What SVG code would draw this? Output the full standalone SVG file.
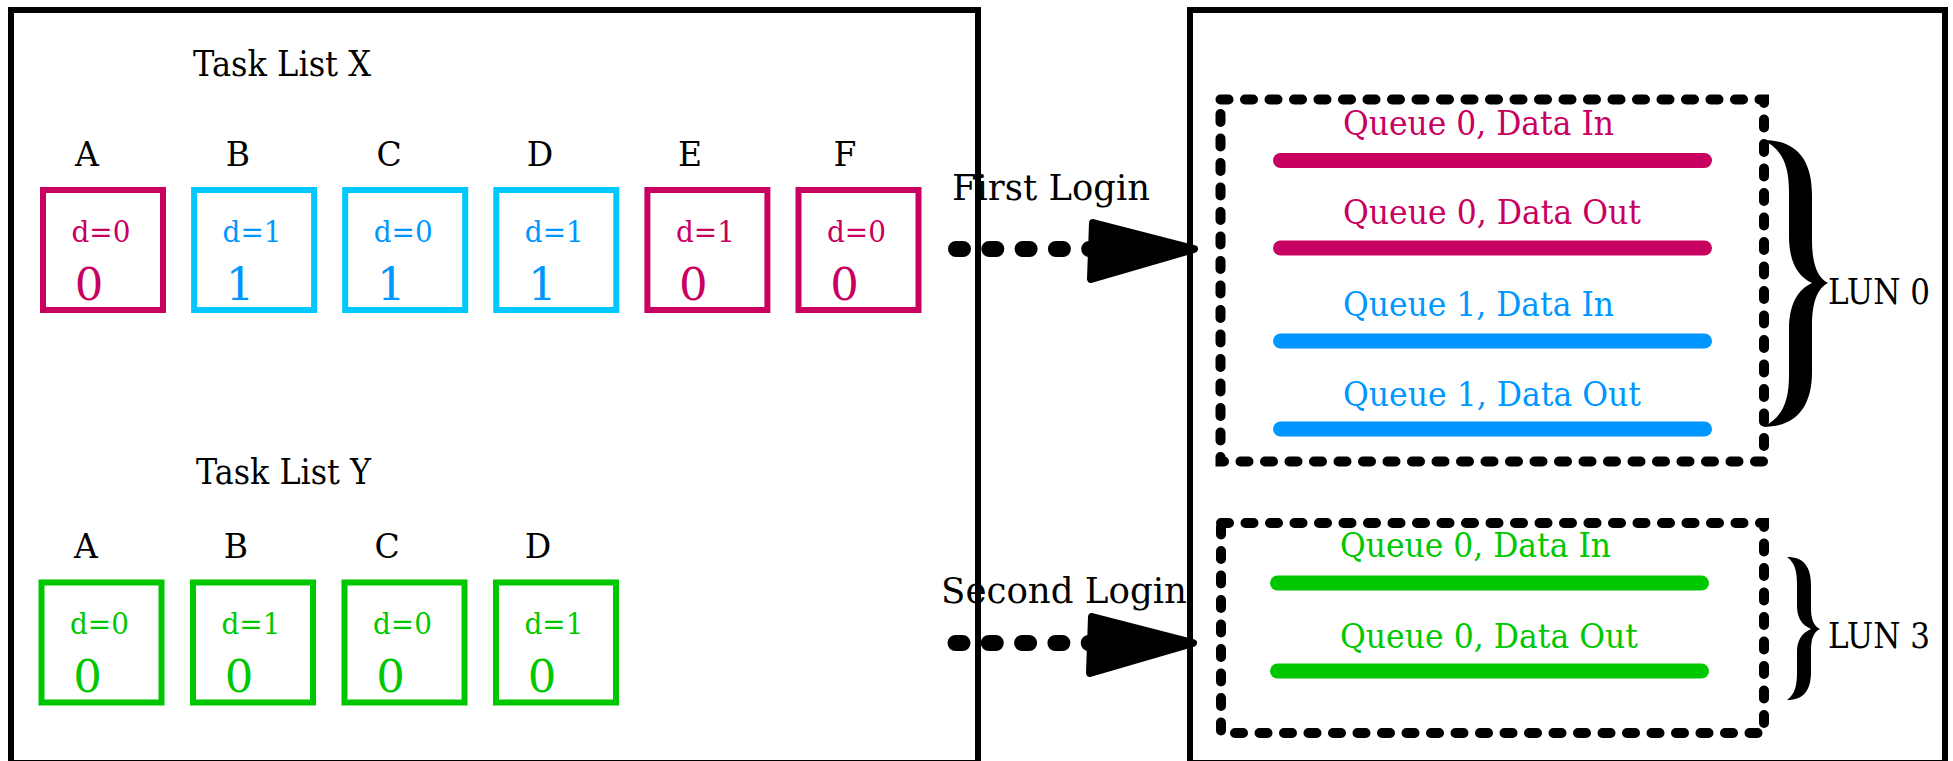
<svg xmlns="http://www.w3.org/2000/svg" width="1953" height="761" viewBox="0 0 1953 761">
<style>
text{font-family:"DejaVu Serif","Liberation Serif",serif;}
.panel{fill:none;stroke:#000;stroke-width:6;}
.box{fill:none;stroke-width:6;}
.lbl{font-size:33px;fill:#000;text-anchor:middle;}
.dv{font-size:30px;text-anchor:middle;}
.big{font-size:45px;text-anchor:middle;}
.title{font-size:36px;fill:#000;}
.login{font-size:35px;fill:#000;}
.q{font-size:33px;}
.lun{font-size:35px;fill:#000;}
.qline{stroke-width:15;stroke-linecap:round;fill:none;}
.group{fill:none;stroke:#000;stroke-width:10;stroke-linecap:round;stroke-dasharray:8 16.5;}
.conn{fill:none;stroke:#000;stroke-width:16;stroke-linecap:round;stroke-dasharray:7 26.3;}
.mg{stroke:#C8005F;} .mgt{fill:#C8005F;}
.cy{stroke:#00C8FF;} .blt{fill:#0096FF;}
.bl{stroke:#0096FF;}
.gr{stroke:#00C800;} .grt{fill:#00C800;}
</style>
<defs>
<marker id="ah" markerUnits="userSpaceOnUse" orient="auto" refX="0" refY="0" markerWidth="130" markerHeight="80" viewBox="-20 -40 130 80" overflow="visible">
<path d="M -7 -26 L 94 0 L -9 30 Z" fill="#000" stroke="#000" stroke-width="8" stroke-linejoin="round"/>
</marker>
</defs>
<rect width="1953" height="761" fill="#fff"/>

<g id="panel-left">
<rect class="panel" x="11" y="10" width="967" height="753"/>
<text class="title" x="193" y="76" textLength="178" lengthAdjust="spacingAndGlyphs">Task List X</text>
<text class="title" x="196" y="484" textLength="175" lengthAdjust="spacingAndGlyphs">Task List Y</text>
</g>

<g id="task-x-A"><text class="lbl" x="87" y="166">A</text><rect class="box mg" x="43" y="190" width="120" height="120"/><text class="dv mgt" x="101" y="242" textLength="59" lengthAdjust="spacingAndGlyphs">d=0</text><text class="big mgt" x="89" y="300">0</text></g>
<g id="task-x-B"><text class="lbl" x="238" y="166">B</text><rect class="box cy" x="194.1" y="190" width="120" height="120"/><text class="dv blt" x="252.1" y="242" textLength="59" lengthAdjust="spacingAndGlyphs">d=1</text><text class="big blt" x="240.1" y="300">1</text></g>
<g id="task-x-C"><text class="lbl" x="389" y="166">C</text><rect class="box cy" x="345.2" y="190" width="120" height="120"/><text class="dv blt" x="403.2" y="242" textLength="59" lengthAdjust="spacingAndGlyphs">d=0</text><text class="big blt" x="391.2" y="300">1</text></g>
<g id="task-x-D"><text class="lbl" x="540" y="166">D</text><rect class="box cy" x="496.3" y="190" width="120" height="120"/><text class="dv blt" x="554.3" y="242" textLength="59" lengthAdjust="spacingAndGlyphs">d=1</text><text class="big blt" x="542.3" y="300">1</text></g>
<g id="task-x-E"><text class="lbl" x="690" y="166">E</text><rect class="box mg" x="647.4" y="190" width="120" height="120"/><text class="dv mgt" x="705.4" y="242" textLength="59" lengthAdjust="spacingAndGlyphs">d=1</text><text class="big mgt" x="693.4" y="300">0</text></g>
<g id="task-x-F"><text class="lbl" x="845" y="166">F</text><rect class="box mg" x="798.5" y="190" width="120" height="120"/><text class="dv mgt" x="856.5" y="242" textLength="59" lengthAdjust="spacingAndGlyphs">d=0</text><text class="big mgt" x="844.5" y="300">0</text></g>

<g id="task-y-A"><text class="lbl" x="86" y="558">A</text><rect class="box gr" x="41.5" y="582.5" width="120" height="120"/><text class="dv grt" x="99.5" y="634" textLength="59" lengthAdjust="spacingAndGlyphs">d=0</text><text class="big grt" x="87.5" y="692">0</text></g>
<g id="task-y-B"><text class="lbl" x="236" y="558">B</text><rect class="box gr" x="193" y="582.5" width="120" height="120"/><text class="dv grt" x="251" y="634" textLength="59" lengthAdjust="spacingAndGlyphs">d=1</text><text class="big grt" x="239" y="692">0</text></g>
<g id="task-y-C"><text class="lbl" x="387" y="558">C</text><rect class="box gr" x="344.5" y="582.5" width="120" height="120"/><text class="dv grt" x="402.5" y="634" textLength="59" lengthAdjust="spacingAndGlyphs">d=0</text><text class="big grt" x="390.5" y="692">0</text></g>
<g id="task-y-D"><text class="lbl" x="538" y="558">D</text><rect class="box gr" x="496" y="582.5" width="120" height="120"/><text class="dv grt" x="554" y="634" textLength="59" lengthAdjust="spacingAndGlyphs">d=1</text><text class="big grt" x="542" y="692">0</text></g>

<g id="panel-right">
<rect class="panel" x="1190" y="10" width="755" height="753"/>
</g>

<g id="lun0">
<rect class="group" x="1220.5" y="99.5" width="543.5" height="362"/>
<text class="q mgt" x="1343" y="135" textLength="271" lengthAdjust="spacingAndGlyphs">Queue 0, Data In</text>
<line class="qline mg" x1="1280.5" y1="160.5" x2="1704.5" y2="160.5"/>
<text class="q mgt" x="1343" y="224" textLength="298" lengthAdjust="spacingAndGlyphs">Queue 0, Data Out</text>
<line class="qline mg" x1="1280.5" y1="248" x2="1704.5" y2="248"/>
<text class="q blt" x="1343" y="316" textLength="271" lengthAdjust="spacingAndGlyphs">Queue 1, Data In</text>
<line class="qline bl" x1="1280.5" y1="341" x2="1704.5" y2="341"/>
<text class="q blt" x="1343" y="406" textLength="298" lengthAdjust="spacingAndGlyphs">Queue 1, Data Out</text>
<line class="qline bl" x1="1280.5" y1="429" x2="1704.5" y2="429"/>
<path d="M 1763 140 C 1795 140 1812 158 1812 195 L 1812 240 C 1812 265 1818 278 1828 283 C 1818 288 1812 301 1812 326 L 1812 372 C 1812 408 1795 427 1763 427 C 1782 418 1789 402 1789 375 L 1789 330 C 1789 305 1797 290 1812 283 C 1797 276 1789 261 1789 236 L 1789 192 C 1789 165 1782 149 1763 140 Z" fill="#000"/>
<text class="lun" x="1828" y="304" textLength="102" lengthAdjust="spacingAndGlyphs">LUN 0</text>
</g>

<g id="lun3">
<rect class="group" x="1221" y="523" width="543" height="210"/>
<text class="q grt" x="1340" y="557" textLength="271" lengthAdjust="spacingAndGlyphs">Queue 0, Data In</text>
<line class="qline gr" x1="1277.5" y1="583" x2="1701.5" y2="583"/>
<text class="q grt" x="1340" y="648" textLength="298" lengthAdjust="spacingAndGlyphs">Queue 0, Data Out</text>
<line class="qline gr" x1="1277.5" y1="671" x2="1701.5" y2="671"/>
<path d="M 1787 557 C 1804 557 1811 567 1811 585 L 1811 608 C 1811 620 1814 626 1820 629 C 1814 632 1811 638 1811 650 L 1811 672 C 1811 690 1804 700 1787 700 C 1795 694 1797 686 1797 672 L 1797 652 C 1797 640 1802 633 1811 629 C 1802 625 1797 618 1797 606 L 1797 585 C 1797 571 1795 563 1787 557 Z" fill="#000"/>
<text class="lun" x="1828" y="648" textLength="102" lengthAdjust="spacingAndGlyphs">LUN 3</text>
</g>

<g id="connectors">
<path class="conn" d="M 956 249 L 1100 249" marker-end="url(#ah)"/>
<text class="login" x="952" y="200" textLength="198" lengthAdjust="spacingAndGlyphs">First Login</text>
<path class="conn" d="M 955.5 643 L 1099 643" marker-end="url(#ah)"/>
<text class="login" x="941" y="603" textLength="246" lengthAdjust="spacingAndGlyphs">Second Login</text>
</g>
</svg>
